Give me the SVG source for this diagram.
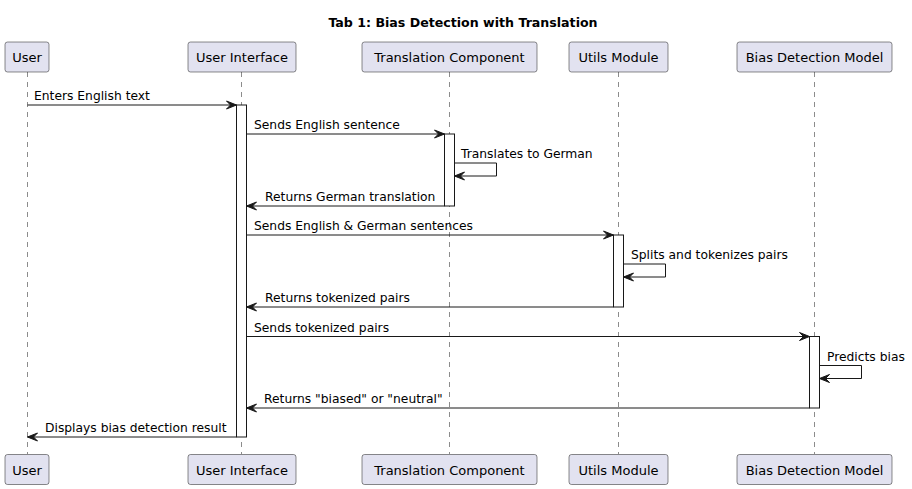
<svg xmlns="http://www.w3.org/2000/svg" width="912" height="489" viewBox="0 0 912 489">
<style>
.bg{fill:#ffffff}
.title{font-family:"DejaVu Sans",sans-serif;font-weight:bold;font-size:12.6px;fill:#000;text-anchor:middle}
.pbox{fill:#E2E2F0;stroke:#181818;stroke-width:0.5}
.ptxt{font-family:"DejaVu Sans",sans-serif;font-size:13px;fill:#000;text-anchor:middle}
.life{stroke:#181818;stroke-width:0.5;stroke-dasharray:5,5;fill:none}
.act{fill:#ffffff;stroke:#181818;stroke-width:1}
.msg{stroke:#181818;stroke-width:1;fill:none;marker-end:url(#ah)}
.mtxt{font-family:"DejaVu Sans",sans-serif;font-size:12.3px;fill:#000}
</style>
<defs>
<marker id="ah" markerUnits="userSpaceOnUse" viewBox="-12 -6 13 12" refX="0" refY="0" markerWidth="13" markerHeight="12" orient="auto">
<path d="M-10,-4 L0,0 L-10,4 L-6,0 Z" fill="#181818" stroke="#181818" stroke-width="1" stroke-linejoin="miter"/>
</marker>
</defs>
<rect class="bg" x="0" y="0" width="912" height="489"/>
<text class="title" x="463" y="27">Tab 1: Bias Detection with Translation</text>

<g id="lifelines">
<line class="life" x1="27.5" y1="72" x2="27.5" y2="454"/>
<line class="life" x1="241.5" y1="72" x2="241.5" y2="454"/>
<line class="life" x1="449.5" y1="72" x2="449.5" y2="454"/>
<line class="life" x1="618.5" y1="72" x2="618.5" y2="454"/>
<line class="life" x1="814.5" y1="72" x2="814.5" y2="454"/>
</g>

<g id="user">
<rect class="pbox" x="5" y="42" width="44" height="30" rx="2.5"/>
<text class="ptxt" x="27" y="62">User</text>
<rect class="pbox" x="5" y="454.5" width="44" height="30" rx="2.5"/>
<text class="ptxt" x="27" y="474.5">User</text>
</g>
<g id="user-interface">
<rect class="pbox" x="188" y="42" width="108" height="30" rx="2.5"/>
<text class="ptxt" x="242" y="62">User Interface</text>
<rect class="pbox" x="188" y="454.5" width="108" height="30" rx="2.5"/>
<text class="ptxt" x="242" y="474.5">User Interface</text>
<rect class="act" x="236.5" y="105" width="10" height="332"/>
</g>
<g id="translation-component">
<rect class="pbox" x="362" y="42" width="175" height="30" rx="2.5"/>
<text class="ptxt" x="449.5" y="62">Translation Component</text>
<rect class="pbox" x="362" y="454.5" width="175" height="30" rx="2.5"/>
<text class="ptxt" x="449.5" y="474.5">Translation Component</text>
<rect class="act" x="444.5" y="134" width="10" height="72"/>
</g>
<g id="utils-module">
<rect class="pbox" x="569" y="42" width="99" height="30" rx="2.5"/>
<text class="ptxt" x="618.5" y="62">Utils Module</text>
<rect class="pbox" x="569" y="454.5" width="99" height="30" rx="2.5"/>
<text class="ptxt" x="618.5" y="474.5">Utils Module</text>
<rect class="act" x="613.5" y="235" width="10" height="72"/>
</g>
<g id="bias-detection-model">
<rect class="pbox" x="737" y="42" width="155" height="30" rx="2.5"/>
<text class="ptxt" x="814.5" y="62">Bias Detection Model</text>
<rect class="pbox" x="737" y="454.5" width="155" height="30" rx="2.5"/>
<text class="ptxt" x="814.5" y="474.5">Bias Detection Model</text>
<rect class="act" x="809.5" y="336.5" width="10" height="71.5"/>
</g>

<g id="connectors">
<line class="msg" x1="27.5" y1="105" x2="236.5" y2="105"/>
<text class="mtxt" x="34" y="100">Enters English text</text>

<line class="msg" x1="246.5" y1="134" x2="444.5" y2="134"/>
<text class="mtxt" x="254" y="129">Sends English sentence</text>

<polyline class="msg" points="454.5,163 496.5,163 496.5,176 454.5,176"/>
<text class="mtxt" x="461" y="158">Translates to German</text>

<line class="msg" x1="444.5" y1="206" x2="246.5" y2="206"/>
<text class="mtxt" x="265" y="201">Returns German translation</text>

<line class="msg" x1="246.5" y1="235" x2="613.5" y2="235"/>
<text class="mtxt" x="254" y="230">Sends English &amp; German sentences</text>

<polyline class="msg" points="623.5,264 665.5,264 665.5,277 623.5,277"/>
<text class="mtxt" x="631" y="259">Splits and tokenizes pairs</text>

<line class="msg" x1="613.5" y1="307" x2="246.5" y2="307"/>
<text class="mtxt" x="265" y="302">Returns tokenized pairs</text>

<line class="msg" x1="246.5" y1="336.5" x2="809.5" y2="336.5"/>
<text class="mtxt" x="254" y="331.5">Sends tokenized pairs</text>

<polyline class="msg" points="819.5,365.5 861.5,365.5 861.5,378.5 819.5,378.5"/>
<text class="mtxt" x="827" y="360.5">Predicts bias</text>

<line class="msg" x1="809.5" y1="408" x2="246.5" y2="408"/>
<text class="mtxt" x="264" y="403">Returns "biased" or "neutral"</text>

<line class="msg" x1="236.5" y1="437" x2="27.5" y2="437"/>
<text class="mtxt" x="45" y="432">Displays bias detection result</text>
</g>
</svg>
